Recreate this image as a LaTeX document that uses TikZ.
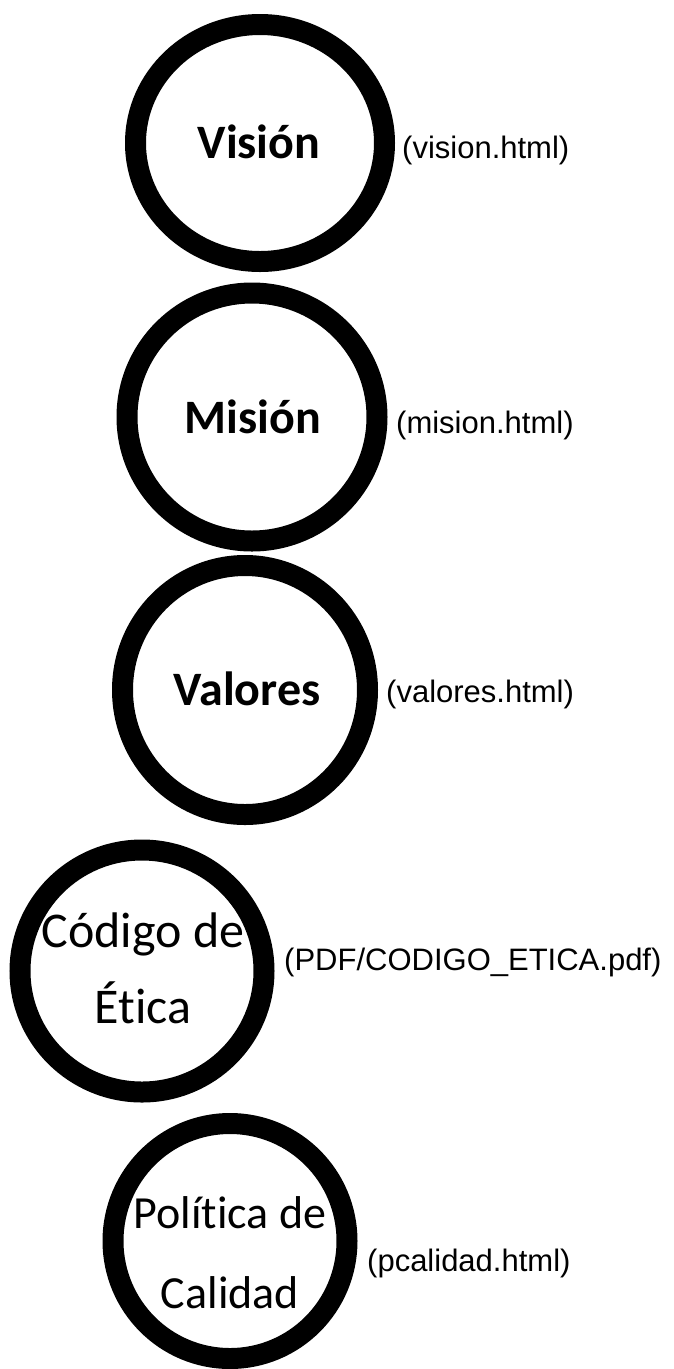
\documentclass[tikz,border=0pt]{standalone}
\usepackage{fontspec}
\setmainfont{Liberation Sans}
\newfontfamily\ringfont[Ligatures=NoCommon]{Carlito}
\usetikzlibrary{shapes.geometric}

\begin{document}
\begin{tikzpicture}[x=1pt, y=-1pt,
  ring/.style={draw, ellipse, line width=21pt, inner sep=0pt},
  word/.style={font=\ringfont\bfseries\fontsize{48}{58}\selectfont, inner sep=0pt, anchor=base},
  pair/.style 2 args={font=\ringfont\fontsize{#1}{#2}\selectfont, align=center, inner sep=0pt, anchor=base},
  link/.style={font=\fontsize{31}{37}\selectfont, inner sep=0pt, anchor=base west}]
  \useasboundingbox (0,0) rectangle (673,1369);

  \node[ring, minimum width=249pt, minimum height=237pt] (vision) at (260,143) {};
  \node[word] (visiontxt) at (259,158) {Visión};
  \node[link] (visionlink) at (402,158) {(vision.html)};

  \node[ring, minimum width=250pt, minimum height=248pt] (mision) at (252,417) {};
  \node[word] (misiontxt) at (253,433) {Misión};
  \node[link] (misionlink) at (396,433) {(mision.html)};

  \node[ring, minimum width=245pt, minimum height=249pt] (valores) at (245,690) {};
  \node[word] (valorestxt) at (247,705) {Valores};
  \node[link] (valoreslink) at (386,702) {(valores.html)};

  % two-line labels: base anchor sits on the last line
  \node[ring, minimum width=244pt, minimum height=242pt] (codigo) at (142,971) {};
  \node[pair={50}{76}] (codigotxt) at (143,1023) {Código de\\Ética};
  \node[link] (codigolink) at (284,970) {(PDF/CODIGO\_ETICA.pdf)};

  \node[ring, minimum width=234pt, minimum height=235pt] (calidad) at (230,1241) {};
  \node[pair={46}{80}] (calidadtxt) at (230,1308) {Política de\\Calidad};
  \node[link] (calidadlink) at (367,1271) {(pcalidad.html)};
\end{tikzpicture}
\end{document}
